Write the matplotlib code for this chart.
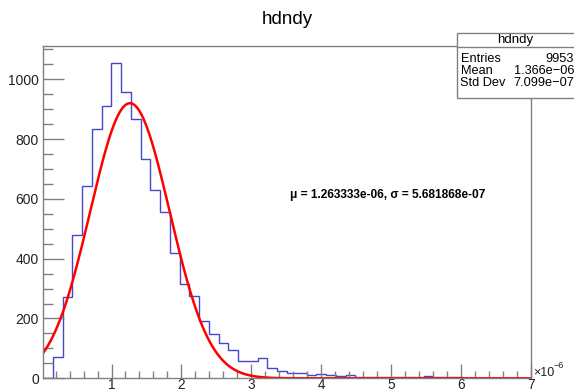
import numpy as np
import matplotlib
matplotlib.use("Agg")
import matplotlib.pyplot as plt
from matplotlib.patches import Rectangle
from matplotlib.lines import Line2D
from matplotlib.ticker import MultipleLocator

plt.rcParams['font.family'] = ['Liberation Sans', 'DejaVu Sans']

# ---- data (x in units of 1e-6) ----
x_min = 0.02
x_max = 7.0
n_bins = 50
counts = [0, 70, 271, 478, 643, 834, 912, 1056, 957, 866,
          733, 629, 557, 418, 314, 275, 190, 147, 118, 96,
          58, 58, 69, 34, 23, 19, 17, 12, 14, 10,
          8, 10, 5, 5, 5, 6, 4, 4, 4, 8,
          4, 5, 6, 0, 0, 0, 0, 0, 0, 0]
fit_const = 920.0
fit_mu = 1.263333
fit_sigma = 0.5681868
stats_entries = "9953"
stats_mean = "1.366e\u221206"
stats_std = "7.099e\u221207"
title = "hdndy"
fit_label = "\u03bc = 1.263333e-06, \u03c3 = 5.681868e-07"

W, H = 574, 392
fig = plt.figure(figsize=(W / 100, H / 100), dpi=100)
L, R, T, B = 43, 531, 46.4, 378.3
ax = fig.add_axes([L / W, 1 - B / H, (R - L) / W, (B - T) / H])

edges = np.linspace(x_min, x_max, n_bins + 1)
ax.stairs(counts, edges, color='#4646c8', lw=1.0, baseline=0)

xs = np.linspace(x_min, x_max, 800)
ax.plot(xs, fit_const * np.exp(-0.5 * ((xs - fit_mu) / fit_sigma) ** 2),
        color='#ff0000', lw=1.8)

ax.set_xlim(x_min, x_max)
ax.set_ylim(0, 1110)

gray = '#808080'
for s in ax.spines.values():
    s.set_color(gray)
    s.set_linewidth(1.0)

ax.xaxis.set_major_locator(MultipleLocator(1))
ax.xaxis.set_minor_locator(MultipleLocator(0.2))
ax.yaxis.set_major_locator(MultipleLocator(200))
ax.yaxis.set_minor_locator(MultipleLocator(50))
ax.tick_params(axis='x', which='major', direction='in', length=10, width=1, color=gray,
               labelsize=9.8, pad=0, labelcolor='#222222')
ax.tick_params(axis='x', which='minor', direction='in', length=5, width=1, color=gray)
ax.tick_params(axis='y', which='major', direction='in', length=15, width=1, color=gray,
               labelsize=10, pad=3, labelcolor='#222222')
ax.tick_params(axis='y', which='minor', direction='in', length=7.5, width=1, color=gray)
ax.set_xticks(np.arange(1, 8))
ax.set_xticklabels([str(i) for i in range(1, 8)])

# exponent label
fig.text(533 / W, 1 - 373 / H, "\u00d710", fontsize=9, color='#222222', va='center', ha='left')
fig.text(554 / W, 1 - 366 / H, "\u22126", fontsize=6.5, color='#222222', va='center', ha='left')

# title
fig.text(287 / W, 1 - 20 / H, title, fontsize=13.5, ha='center', va='center')

# fit label
fig.text(388 / W, 1 - 195 / H, fit_label, fontsize=8.6, fontweight='bold',
         ha='center', va='center')

# stats box
bx0, by0, bx1, by1 = 456.7, 33.3, 576, 98.3
fig.add_artist(Rectangle((bx0 / W, 1 - by1 / H), (bx1 - bx0) / W, (by1 - by0) / H,
                         transform=fig.transFigure, facecolor='white', edgecolor=gray,
                         lw=1.0, zorder=5))
fig.add_artist(Line2D([bx0 / W, bx1 / W], [1 - 46.5 / H, 1 - 46.5 / H],
                      transform=fig.transFigure, color=gray, lw=1.0, zorder=6))
fig.text(515 / W, 1 - 40 / H, title, fontsize=9.5, ha='center', va='center', zorder=7)
rows = [("Entries", stats_entries, 59.5), ("Mean", stats_mean, 71), ("Std Dev", stats_std, 82.5)]
for name, val, yy in rows:
    fig.text(460.5 / W, 1 - yy / H, name, fontsize=9.2, ha='left', va='center', zorder=7)
    fig.text(574 / W, 1 - yy / H, val, fontsize=9.2, ha='right', va='center', zorder=7)

fig.savefig("out.png", dpi=100)
